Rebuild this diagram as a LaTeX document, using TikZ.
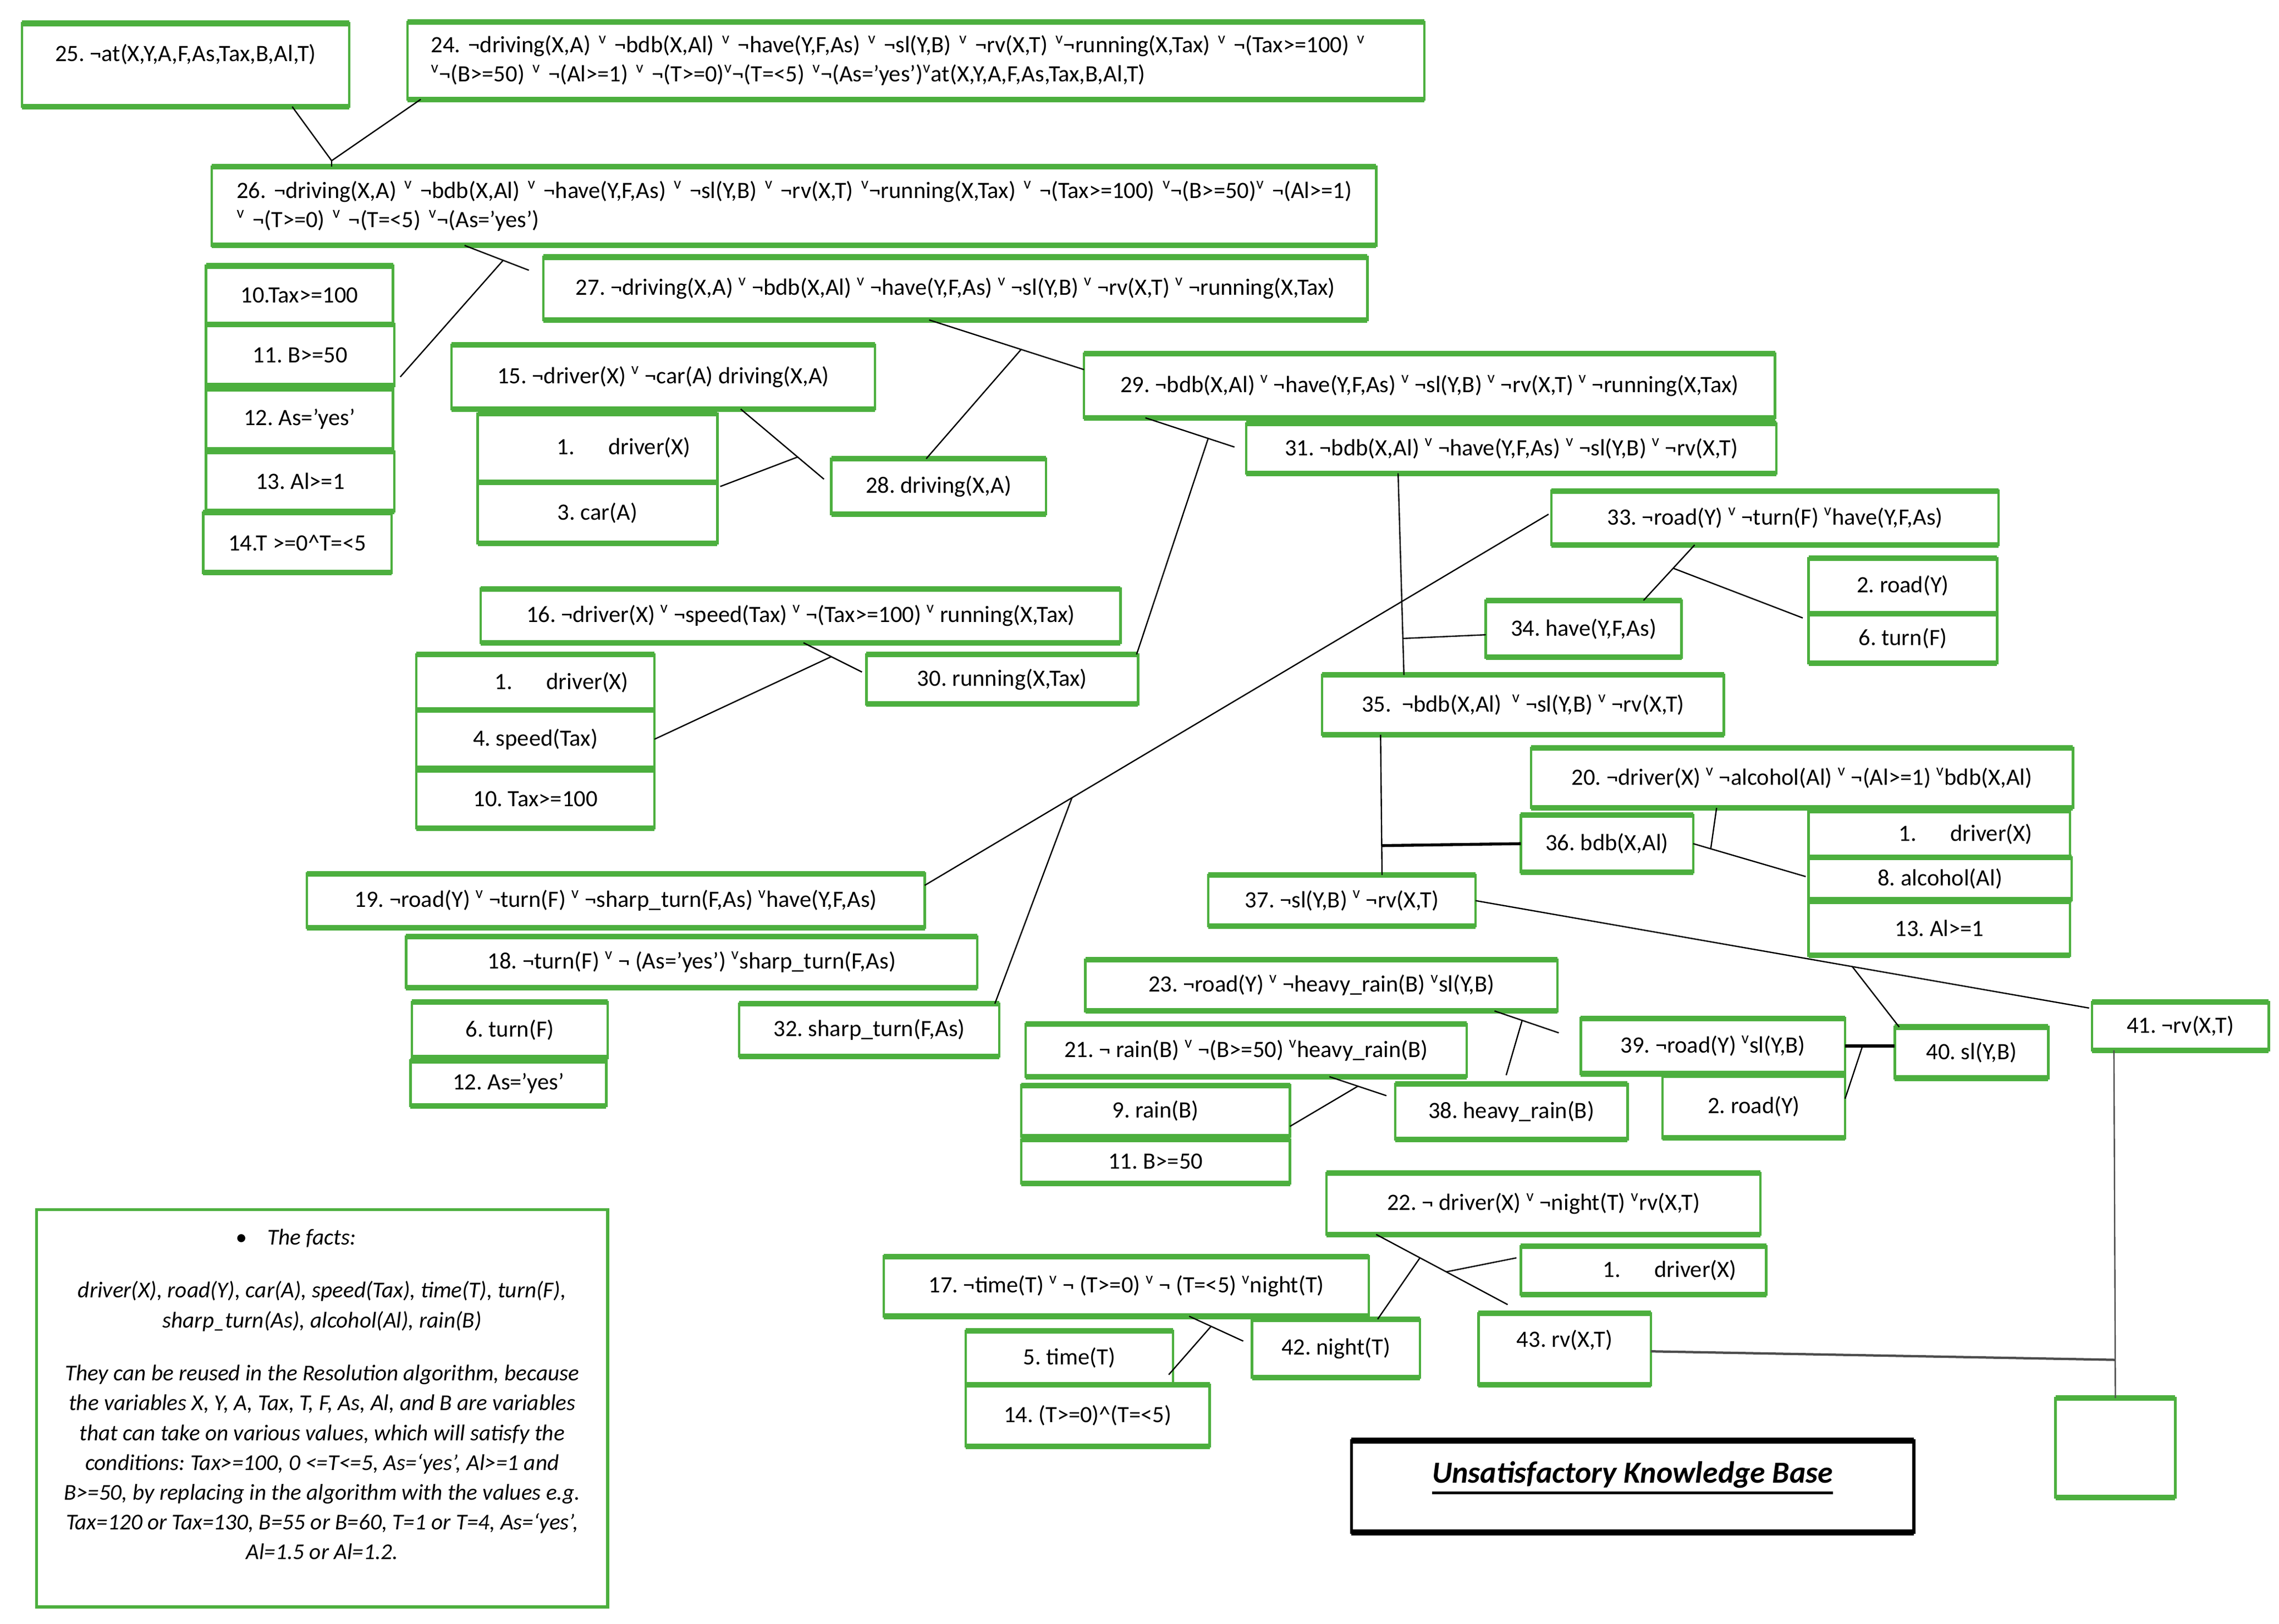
\documentclass[tikz,border=0pt]{standalone}
\usepackage{fontspec}
\setmainfont{Carlito}
\definecolor{kg}{RGB}{76,175,62}
\frenchspacing
\newcommand{\orv}{\textsuperscript{v}}
\newcommand{\drv}{\hspace*{36pt}1.\hspace{23pt}driver(X)}
\newcommand{\thul}[1]{\vtop{\hbox{#1}\kern2.5pt\hrule height 1.6pt}}
\newcommand{\mkbox}[7][]{\node[gb,#1,minimum width={(#5-#3)*1pt},minimum height={(#6-#4)*1pt}] (#2) at ({(#3+#5)/2},{(#4+#6)/2}) {#7};}
\begin{document}
\begin{tikzpicture}[x=1pt,y=-1pt,
  gb/.style={rectangle,draw=kg,line width=1.7pt,inner sep=0pt,outer sep=0pt,align=center,font=\fontsize{16}{20}\selectfont},
  gedge/.style={draw=kg,line width=3.8pt},
  conn/.style={draw=black,line width=0.9pt},
  factbox/.style={rectangle,draw=kg,line width=2pt,inner sep=0pt,outer sep=0pt},
  facttext/.style={inner sep=0pt,align=center,font=\fontsize{15.5}{20.4}\selectfont\itshape},
  titlebox/.style={rectangle,draw=black,line width=2pt,inner sep=0pt,outer sep=0pt,font=\fontsize{21}{25}\selectfont\bfseries\itshape},
]
\fill[white] (0,0) rectangle (1560,1111.3);
\useasboundingbox (0,0) rectangle (1560,1111.3);

% ---------- boxes ----------
\mkbox[text height=12pt,text depth=17pt]{b25}{15}{16}{239}{73}{25. ¬at(X,Y,A,F,As,Tax,B,Al,T)}
\mkbox[align=left,text width=664pt]{b24}{279}{15}{975}{68}{\mbox{24. ¬driving(X,A) \orv{} ¬bdb(X,Al) \orv{} ¬have(Y,F,As) \orv{} ¬sl(Y,B) \orv{} ¬rv(X,T) \orv{}¬running(X,Tax) \orv{} ¬(Tax>=100) \orv}\\\mbox{\orv{}¬(B>=50) \orv{} ¬(Al>=1) \orv{} ¬(T>=0)\orv{}¬(T=<5) \orv{}¬(As=’yes’)\orv{}at(X,Y,A,F,As,Tax,B,Al,T)}}
\mkbox[align=left,text width=763pt]{b26}{145}{114}{942}{168}{\mbox{26. ¬driving(X,A) \orv{} ¬bdb(X,Al) \orv{} ¬have(Y,F,As) \orv{} ¬sl(Y,B) \orv{} ¬rv(X,T) \orv{}¬running(X,Tax) \orv{} ¬(Tax>=100) \orv{}¬(B>=50)\orv{} ¬(Al>=1)}\\\mbox{\orv{} ¬(T>=0) \orv{} ¬(T=<5) \orv{}¬(As=’yes’)}}
\mkbox{b27}{372}{176}{936}{219}{27. ¬driving(X,A) \orv{} ¬bdb(X,Al) \orv{} ¬have(Y,F,As) \orv{} ¬sl(Y,B) \orv{} ¬rv(X,T) \orv{} ¬running(X,Tax)}
\mkbox{b10a}{141}{182}{269}{222}{10.Tax>=100}
\mkbox{b11a}{141}{222}{270}{264}{11. B>=50}
\mkbox{b12a}{141}{266}{269}{308}{12. As=’yes’}
\mkbox{b13a}{141}{309}{270}{350}{13. Al>=1}
\mkbox{b14a}{139}{351}{268}{392}{14.T >=0\textasciicircum T=<5}
\mkbox{b15}{309}{236}{599}{280}{15. ¬driver(X) \orv{} ¬car(A) driving(X,A)}
\mkbox{b1a}{327}{283}{491}{330}{\drv}
\mkbox{b3a}{327}{330}{491}{372}{3. car(A)}
\mkbox{b28}{569}{314}{716}{352}{28. driving(X,A)}
\mkbox{b29}{742}{242}{1215}{286}{29. ¬bdb(X,Al) \orv{} ¬have(Y,F,As) \orv{} ¬sl(Y,B) \orv{} ¬rv(X,T) \orv{} ¬running(X,Tax)}
\mkbox{b31}{853}{290}{1216}{324}{31. ¬bdb(X,Al) \orv{} ¬have(Y,F,As) \orv{} ¬sl(Y,B) \orv{} ¬rv(X,T)}
\mkbox{b33}{1062}{336}{1368}{373}{33. ¬road(Y) \orv{} ¬turn(F) \orv{}have(Y,F,As)}
\mkbox{b2a}{1238}{382}{1367}{420}{2. road(Y)}
\mkbox{b6a}{1238}{420}{1367}{454}{6. turn(F)}
\mkbox{b34}{1017}{411}{1151}{450}{34. have(Y,F,As)}
\mkbox{b16}{329}{403}{767}{440}{16. ¬driver(X) \orv{} ¬speed(Tax) \orv{} ¬(Tax>=100) \orv{} running(X,Tax)}
\mkbox{b1b}{285}{448}{448}{486}{\drv}
\mkbox{b4}{285}{486}{448}{526}{4. speed(Tax)}
\mkbox{b10b}{285}{527}{448}{567}{10. Tax>=100}
\mkbox{b30}{593}{448}{779}{482}{30. running(X,Tax)}
\mkbox{b35}{905}{462}{1180}{503}{35.\ \ ¬bdb(X,Al)\ \ \orv{} ¬sl(Y,B) \orv{} ¬rv(X,T)}
\mkbox{b20}{1048}{512}{1419}{553}{20. ¬driver(X) \orv{} ¬alcohol(Al) \orv{} ¬(Al>=1) \orv{}bdb(X,Al)}
\mkbox{b36}{1041}{558}{1159}{597}{36. bdb(X,Al)}
\mkbox{b1c}{1238}{555}{1417}{587}{\drv}
\mkbox{b8}{1238}{587}{1418}{616}{8. alcohol(Al)}
\mkbox{b13b}{1238}{617}{1417}{654}{13. Al>=1}
\mkbox{b19}{210}{598}{633}{635}{19. ¬road(Y) \orv{} ¬turn(F) \orv{} ¬sharp\_turn(F,As) \orv{}have(Y,F,As)}
\mkbox{b37}{827}{599}{1010}{634}{37. ¬sl(Y,B) \orv{} ¬rv(X,T)}
\mkbox{b18}{278}{641}{669}{676}{18. ¬turn(F) \orv{} ¬ (As=’yes’) \orv{}sharp\_turn(F,As)}
\mkbox{b23}{743}{657}{1066}{692}{23. ¬road(Y) \orv{} ¬heavy\_rain(B) \orv{}sl(Y,B)}
\mkbox{b6b}{282}{686}{416}{724}{6. turn(F)}
\mkbox{b12b}{281}{726}{415}{757}{12. As=’yes’}
\mkbox{b32}{506}{687}{684}{723}{32. sharp\_turn(F,As)}
\mkbox{b21}{702}{701}{1004}{737}{21. ¬ rain(B) \orv{} ¬(B>=50) \orv{}heavy\_rain(B)}
\mkbox{b39}{1082}{697}{1263}{735}{39. ¬road(Y) \orv{}sl(Y,B)}
\mkbox{b40}{1297}{703}{1402}{738}{40. sl(Y,B)}
\mkbox{b41}{1432}{686}{1553}{719}{41. ¬rv(X,T)}
\mkbox{b9}{699}{743}{883}{778}{9. rain(B)}
\mkbox{b11b}{699}{780}{883}{810}{11. B>=50}
\mkbox{b38}{955}{742}{1114}{780}{38. heavy\_rain(B)}
\mkbox{b2b}{1138}{736}{1263}{779}{2. road(Y)}
\mkbox{b22}{908}{803}{1205}{845}{22. ¬ driver(X) \orv{} ¬night(T) \orv{}rv(X,T)}
\mkbox{b17}{605}{860}{937}{901}{17. ¬time(T) \orv{} ¬ (T>=0) \orv{} ¬ (T=<5) \orv{}night(T)}
\mkbox{b1d}{1041}{853}{1209}{886}{\drv}
\mkbox{b5}{661}{911}{803}{948}{5. time(T)}
\mkbox{b14b}{661}{948}{828}{990}{14. (T>=0)\textasciicircum(T=<5)}
\mkbox{b42}{857}{903}{972}{943}{42. night(T)}
\mkbox[text height=12pt,text depth=15pt]{b43}{1012}{899}{1130}{948}{43. rv(X,T)}
\mkbox{bE}{1407}{957}{1489}{1025}{}

\foreach \n in {b25,b24,b26,b27,b10a,b11a,b12a,b13a,b14a,b15,b1a,b3a,b28,b29,b31,b33,b2a,b6a,b34,b16,b1b,b4,b10b,b30,b35,b20,b36,b1c,b8,b13b,b19,b37,b18,b23,b6b,b12b,b32,b21,b39,b40,b41,b9,b11b,b38,b2b,b22,b17,b1d,b5,b14b,b42,b43,bE}
  \draw[gedge] (\n.north west) -- (\n.north east) (\n.south west) -- (\n.south east);

% title
\node[titlebox,minimum width=385pt,minimum height=63pt,text height=15pt,text depth=20pt] (title) at (1117.5,1017.5) {\thul{Unsatisfactory Knowledge Base}};
\draw[draw=black,line width=4pt] (title.north west) -- (title.north east) (title.south west) -- (title.south east);

% facts
\node[factbox,minimum width=391pt,minimum height=272pt] (facts) at (220.5,964) {};
\node[facttext,anchor=north] (factstext) at ([yshift=-13pt]facts.north) {\hspace*{-36pt}\textbullet\hspace{14pt}The facts:\\[16pt]
driver(X), road(Y), car(A), speed(Tax), time(T), turn(F),\\
sharp\_turn(As), alcohol(Al), rain(B)\\[16pt]
They can be reused in the Resolution algorithm, because\\
the variables X, Y, A, Tax, T, F, As, Al, and B are variables\\
that can take on various values, which will satisfy the\\
conditions: Tax>=100, 0 <=T<=5, As=‘yes’, Al>=1 and\\
B>=50, by replacing in the algorithm with the values e.g.\\
Tax=120 or Tax=130, B=55 or B=60, T=1 or T=4, As=‘yes’,\\
Al=1.5 or Al=1.2.};

% ---------- connectors ----------
\coordinate (j1) at (227,110);
\draw[conn] ([xshift=185pt]b25.south west) -- (j1);
\draw[conn] ([xshift=9pt]b24.south west) -- (j1) -- ([xshift=82pt]b26.north west);

\draw[conn] ([xshift=173pt]b26.south west) -- coordinate[pos=0.6] (j2) ([xshift=-10pt,yshift=-9pt]b27.north west);
\draw[conn] (j2) -- ([xshift=4pt,yshift=6pt]b11a.south east);

\draw[conn] ([xshift=264pt]b27.south west) -- coordinate[pos=0.594] (j3) ([yshift=-11pt]b29.north west);
\draw[conn] (j3) -- ([xshift=65pt]b28.north west);

\draw[conn] ([xshift=198pt]b15.south west) -- coordinate[pos=0.684] (j4) ([xshift=-5pt,yshift=-14pt]b28.north west);
\draw[conn] (j4) -- ([xshift=2pt,yshift=-3pt]b3a.north east);

\draw[conn] ([xshift=42pt]b29.south west) -- coordinate[pos=0.705] (j5) ([xshift=-8pt,yshift=-16pt]b31.north west);
\draw[conn] (j5) -- ([xshift=-1pt]b30.north east);

\draw[conn] ([xshift=104pt]b31.south west) -- coordinate[pos=0.819] (j6) ([xshift=56pt]b35.north west);
\draw[conn] (j6) -- ([yshift=-4pt]b34.west);

\draw[conn] ([xshift=98pt]b33.south west) -- coordinate[pos=0.42] (j7) ([xshift=108pt]b34.north west);
\draw[conn] (j7) -- ([xshift=-4pt,yshift=-3pt]b6a.north west);

\draw[conn] ([yshift=-8pt]b19.north east) -- coordinate[pos=0.236] (j8) ([xshift=-2pt,yshift=-16pt]b33.north west);
\draw[conn] (j8) -- ([xshift=-3pt]b32.north east);

\draw[conn] ([xshift=221pt]b16.south west) -- coordinate[pos=0.475] (j9) ([xshift=-3pt,yshift=-12pt]b30.north west);
\draw[conn] (j9) -- (b4.east);

\draw[conn] ([xshift=40pt]b35.south west) -- coordinate[pos=0.79] (j10) ([xshift=119pt]b37.north west);
\draw[conn,line width=2pt] (j10) -- (b36.west);

\draw[conn] (b36.east) -- coordinate[pos=0.156] (j11) ([xshift=-2pt,yshift=-13pt]b8.north west);
\draw[conn] ([xshift=127pt]b20.south west) -- (j11);

\draw[conn] (b37.east) -- coordinate[pos=0.614] (j12) ([xshift=-2pt,yshift=-4pt]b41.north west);
\draw[conn] (j12) -- ([xshift=3pt]b40.north west);

\draw[conn] ([xshift=280pt]b23.south west) -- coordinate[pos=0.43] (j13) ([xshift=-15pt,yshift=-10pt]b39.north west);
\draw[conn] (j13) -- ([xshift=76pt,yshift=6pt]b38.north west);

\draw[conn,line width=2.2pt] (b39.east) -- coordinate[pos=0.35] (j14) (b39.east -| b40.west);
\draw[conn] (j14) -- ([yshift=-16pt]b2b.north east);

\draw[conn] ([xshift=208pt]b21.south west) -- coordinate[pos=0.5] (j15) ([xshift=-6pt,yshift=-8pt]b38.north west);
\draw[conn] (j15) -- ([yshift=7pt]b9.south east);

\draw[conn,draw=black!70] ([xshift=15pt]b41.south west) -- coordinate[pos=0.89] (j16) ([xshift=41pt]bE.north west);
\draw[conn,draw=black!70,line width=1.6pt] ([yshift=-26pt]b43.north east) -- (j16);

\draw[conn] ([xshift=34pt]b22.south west) -- coordinate[pos=0.333] (j17) coordinate[pos=0.533] (j18) ([xshift=20pt,yshift=6pt]b43.north west);
\draw[conn] (j17) -- ([xshift=86pt]b42.north west);
\draw[conn] (j18) -- ([xshift=-3pt,yshift=-8pt]b1d.north west);

\draw[conn] ([xshift=209pt]b17.south west) -- coordinate[pos=0.405] (j19) ([xshift=-6pt,yshift=-15pt]b42.north west);
\draw[conn] (j19) -- ([xshift=-3pt,yshift=7pt]b5.south east);
\end{tikzpicture}
\end{document}
